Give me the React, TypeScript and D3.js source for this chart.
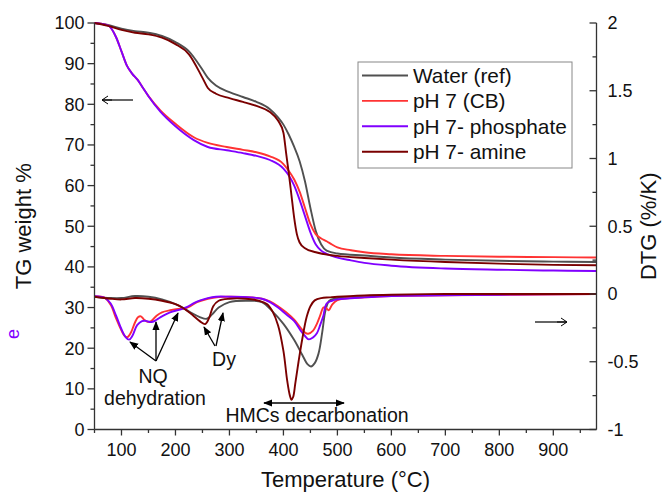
import React from "react";
import * as d3 from "d3";

// ---- TG data (weight %) ----
const tgWaterT = [50, 75, 100, 125, 150, 175, 200, 225, 250, 260, 275, 300, 325, 350, 375, 390, 400, 410, 420, 430, 440, 450, 460, 470, 480, 500, 550, 600, 700, 800, 900, 980];
const tgWaterV = [100, 99.5, 98.6, 98.0, 97.6, 96.8, 95.3, 93.0, 88.5, 86.5, 84.6, 83.0, 81.8, 80.6, 78.8, 76.8, 75.0, 72.5, 69.5, 66.0, 61.0, 54.5, 48.8, 45.5, 44.0, 43.3, 42.8, 42.3, 41.8, 41.5, 41.3, 41.2];

const tgCbT = [50, 75, 90, 100, 110, 120, 130, 140, 150, 172, 200, 234, 260, 295, 325, 350, 375, 400, 410, 420, 430, 440, 450, 460, 470, 480, 490, 500, 525, 550, 600, 700, 800, 900, 980];
const tgCbV = [100, 99.4, 96.5, 93.0, 89.5, 87.5, 86.0, 84.0, 82.0, 78.5, 75.2, 71.9, 70.5, 69.5, 68.8, 68.2, 67.2, 65.3, 63.6, 61.5, 58.5, 54.5, 50.5, 48.0, 47.0, 46.3, 45.5, 44.8, 44.1, 43.6, 43.1, 42.7, 42.5, 42.4, 42.3];

const tgPhosT = [50, 75, 90, 100, 110, 120, 130, 140, 150, 172, 200, 234, 260, 295, 325, 350, 375, 400, 410, 420, 430, 440, 450, 460, 470, 480, 500, 525, 550, 600, 700, 800, 900, 980];
const tgPhosV = [100, 99.4, 96.5, 93.0, 89.5, 87.5, 86.0, 84.0, 82.0, 78.2, 74.6, 71.2, 69.5, 68.7, 68.0, 67.3, 66.3, 64.2, 62.5, 60.0, 56.5, 52.5, 48.5, 45.5, 44.0, 43.2, 42.3, 41.6, 41.0, 40.3, 39.6, 39.3, 39.1, 39.0];

const tgAmineT = [50, 75, 100, 125, 150, 175, 200, 225, 250, 260, 275, 300, 325, 350, 375, 390, 400, 405, 410, 415, 420, 425, 430, 440, 460, 500, 550, 600, 700, 800, 900, 980];
const tgAmineV = [100, 99.3, 98.3, 97.6, 97.2, 96.4, 94.8, 92.3, 86.5, 84.0, 82.6, 81.5, 80.6, 79.6, 78.1, 76.0, 73.0, 68.0, 63.0, 57.5, 52.0, 48.0, 46.0, 44.6, 43.6, 42.7, 42.2, 41.8, 41.2, 40.8, 40.5, 40.4];

// ---- DTG data (%/K) ----
const dtgWaterT = [50, 80, 100, 125, 150, 175, 200, 215, 230, 245, 258, 268, 280, 300, 330, 360, 380, 400, 420, 435, 445, 451, 458, 465, 472, 478, 485, 500, 550, 600, 700, 800, 980];
const dtgWaterV = [-0.02, -0.03, -0.03, -0.015, -0.02, -0.04, -0.075, -0.105, -0.14, -0.17, -0.183, -0.15, -0.1, -0.06, -0.05, -0.06, -0.13, -0.22, -0.34, -0.45, -0.52, -0.535, -0.51, -0.44, -0.28, -0.12, -0.05, -0.03, -0.015, -0.01, -0.005, 0, 0];

const dtgCbT = [50, 70, 80, 90, 100, 106, 111, 118, 125, 131, 136, 142, 148, 155, 165, 175, 190, 205, 215, 225, 240, 260, 280, 300, 340, 360, 375, 390, 405, 420, 432, 440, 446, 455, 462, 468, 474, 478, 484, 490, 500, 550, 600, 700, 980];
const dtgCbV = [-0.017, -0.03, -0.08, -0.18, -0.27, -0.31, -0.318, -0.28, -0.21, -0.17, -0.165, -0.19, -0.205, -0.2, -0.16, -0.135, -0.12, -0.11, -0.108, -0.095, -0.06, -0.035, -0.022, -0.02, -0.025, -0.035, -0.055, -0.09, -0.135, -0.19, -0.25, -0.285, -0.293, -0.27, -0.22, -0.16, -0.1, -0.1, -0.12, -0.08, -0.045, -0.025, -0.015, -0.01, 0];

const dtgPhosT = [50, 70, 80, 90, 100, 108, 114, 120, 129, 138, 145, 152, 158, 165, 175, 190, 210, 222, 235, 246, 260, 275, 300, 340, 360, 375, 390, 405, 420, 432, 440, 447, 455, 462, 468, 474, 480, 490, 500, 550, 600, 700, 800, 980];
const dtgPhosV = [-0.017, -0.03, -0.07, -0.16, -0.26, -0.32, -0.337, -0.31, -0.23, -0.2, -0.198, -0.207, -0.205, -0.19, -0.165, -0.135, -0.113, -0.095, -0.065, -0.047, -0.03, -0.02, -0.02, -0.025, -0.035, -0.06, -0.1, -0.15, -0.2, -0.27, -0.31, -0.335, -0.32, -0.29, -0.23, -0.16, -0.07, -0.05, -0.04, -0.025, -0.015, -0.01, -0.005, 0];

const dtgAmineT = [50, 80, 100, 125, 150, 175, 200, 215, 230, 245, 255, 262, 270, 280, 300, 330, 355, 370, 380, 390, 400, 407, 412, 415, 418, 422, 428, 435, 443, 450, 458, 470, 485, 500, 550, 600, 700, 800, 980];
const dtgAmineV = [-0.02, -0.035, -0.04, -0.03, -0.035, -0.05, -0.075, -0.105, -0.15, -0.2, -0.222, -0.18, -0.09, -0.05, -0.035, -0.035, -0.05, -0.075, -0.13, -0.23, -0.42, -0.64, -0.75, -0.78, -0.76, -0.66, -0.5, -0.33, -0.17, -0.09, -0.047, -0.03, -0.025, -0.02, -0.01, -0.005, 0, 0, 0];

const seriesNames = ["Water (ref)", "pH 7 (CB)", "pH 7- phosphate", "pH 7- amine"];
const seriesColors = ["#505050", "#ff3333", "#8000ff", "#7a0000"];

const xTicks = [100, 200, 300, 400, 500, 600, 700, 800, 900];
const yLeftTicks = [0, 10, 20, 30, 40, 50, 60, 70, 80, 90, 100];
const yRightTicks = [-1, -0.5, 0, 0.5, 1, 1.5, 2];

const FONT = "'Liberation Sans', Arial, sans-serif";

export default function App() {
  const W = 664, H = 492;
  const L = 94.5, R = 596.5, T = 23, B = 429.5;
  const x = d3.scaleLinear().domain([50, 980]).range([L, R]);
  const yL = d3.scaleLinear().domain([0, 100]).range([B, T]);
  const yR = d3.scaleLinear().domain([-1, 2]).range([B, T]);

  const tg = [
    [tgWaterT, tgWaterV],
    [tgCbT, tgCbV],
    [tgPhosT, tgPhosV],
    [tgAmineT, tgAmineV],
  ];
  const dtg = [
    [dtgWaterT, dtgWaterV],
    [dtgCbT, dtgCbV],
    [dtgPhosT, dtgPhosV],
    [dtgAmineT, dtgAmineV],
  ];

  const lineTG = d3.line<number[]>().x((d) => x(d[0])).y((d) => yL(d[1])).curve(d3.curveMonotoneX);
  const lineDTG = d3.line<number[]>().x((d) => x(d[0])).y((d) => yR(d[1])).curve(d3.curveCatmullRom.alpha(0.5));

  const axisColor = "#333";
  const xMinor = d3.range(50, 1000, 50).filter((v) => v % 100 !== 0 && v <= 980);
  const yLMinor = d3.range(5, 100, 10);
  const yRMinor = d3.range(-0.75, 2, 0.5);

  const zip = (t: number[], v: number[]) => t.map((tt, i) => [tt, v[i]]);

  return (
    <svg width={W} height={H} style={{ display: "block", position: "absolute", left: 0, top: 0 }} fontFamily={FONT}>
      <defs>
        <marker id="ah" viewBox="0 0 10 10" refX="9" refY="5" markerWidth="9" markerHeight="9" markerUnits="userSpaceOnUse" orient="auto-start-reverse">
          <path d="M0,1 L10,5 L0,9 Z" fill="#000" />
        </marker>
        <marker id="ah2" viewBox="0 0 10 10" refX="9" refY="5" markerWidth="14" markerHeight="10" markerUnits="userSpaceOnUse" orient="auto-start-reverse">
          <path d="M0,5 L10,5 M4,1 L10,5 L4,9" stroke="#000" fill="none" strokeWidth="1" />
        </marker>
      </defs>
      <rect width={W} height={H} fill="#fff" />

      {/* curves */}
      {tg.map(([t, v], i) => (
        <path key={"tg" + i} d={lineTG(zip(t, v)) || ""} fill="none" stroke={seriesColors[i]} strokeWidth={1.9} />
      ))}
      {dtg.map(([t, v], i) => (
        <path key={"dtg" + i} d={lineDTG(zip(t, v)) || ""} fill="none" stroke={seriesColors[i]} strokeWidth={1.9} />
      ))}

      {/* axes */}
      <g stroke={axisColor} strokeWidth={1.3} fill="none">
        <line x1={L} y1={T} x2={L} y2={B} />
        <line x1={L} y1={B} x2={R} y2={B} />
        <line x1={R} y1={T} x2={R} y2={B} />
        {yLeftTicks.map((v) => <line key={"yl" + v} x1={L - 7} x2={L} y1={yL(v)} y2={yL(v)} />)}
        {yLMinor.map((v) => <line key={"ylm" + v} x1={L - 4} x2={L} y1={yL(v)} y2={yL(v)} />)}
        {xTicks.map((v) => <line key={"xt" + v} x1={x(v)} x2={x(v)} y1={B} y2={B + 6} />)}
        {xMinor.map((v) => <line key={"xm" + v} x1={x(v)} x2={x(v)} y1={B} y2={B + 3.5} />)}
        {yRightTicks.map((v) => <line key={"yr" + v} x1={R - 7} x2={R} y1={yR(v)} y2={yR(v)} />)}
        {yRMinor.map((v) => <line key={"yrm" + v} x1={R - 4} x2={R} y1={yR(v)} y2={yR(v)} />)}
      </g>
      <g fontSize={18} fill="#111">
        {yLeftTicks.map((v) => (
          <text key={"ylt" + v} x={L - 10} y={yL(v)} dy="0.36em" textAnchor="end">{v}</text>
        ))}
        {xTicks.map((v) => (
          <text key={"xtt" + v} x={x(v)} y={B + 26} textAnchor="middle">{v}</text>
        ))}
        {yRightTicks.map((v) => (
          <text key={"yrt" + v} x={R + 11} y={yR(v)} dy="0.36em" textAnchor="start">{v}</text>
        ))}
      </g>
      <g fontSize={22} fill="#111">
        <text x={(L + R) / 2} y={487} textAnchor="middle">Temperature (°C)</text>
        <text transform={`translate(31,${(T + B) / 2}) rotate(-90)`} textAnchor="middle">TG weight %</text>
        <text transform={`translate(648,${(T + B) / 2}) rotate(-90)`} textAnchor="middle" dy="0.35em">DTG (%/K)</text>
      </g>
      <text transform="translate(19,334) rotate(-90)" fontSize={18} fill="#8000ff" textAnchor="middle">e</text>

      {/* legend */}
      <rect x={358} y={62} width={214} height={106} fill="#fff" stroke="#888" strokeWidth={1} />
      {seriesNames.map((n, i) => (
        <g key={"lg" + i}>
          <line x1={362} x2={408} y1={75.5 + i * 25.4} y2={75.5 + i * 25.4} stroke={seriesColors[i]} strokeWidth={1.9} />
          <text x={413} y={75.5 + i * 25.4} dy="0.35em" fontSize={20.8} fill="#111">{n}</text>
        </g>
      ))}

      {/* side arrows */}
      <line x1={133} y1={100} x2={103} y2={100} stroke="#000" strokeWidth={1.2} markerEnd="url(#ah2)" />
      <line x1={535} y1={322} x2={566} y2={322} stroke="#000" strokeWidth={1.2} markerEnd="url(#ah2)" />

      {/* annotations */}
      <g stroke="#000" strokeWidth={1.3} fill="none">
        <line x1={156} y1={361} x2={130} y2={342} markerEnd="url(#ah)" />
        <line x1={156} y1={361} x2={156} y2={322} markerEnd="url(#ah)" />
        <line x1={156} y1={361} x2={178} y2={313} markerEnd="url(#ah)" />
        <line x1={215} y1={346} x2={204} y2={327} markerEnd="url(#ah)" />
        <line x1={216} y1={346} x2={223} y2={313} markerEnd="url(#ah)" />
        <line x1={264} y1={403} x2={344} y2={403} markerStart="url(#ah)" markerEnd="url(#ah)" />
      </g>
      <g fontSize={19.5} fill="#111" textAnchor="middle">
        <text x={153} y={383}>NQ</text>
        <text x={155} y={405}>dehydration</text>
        <text x={224} y={366}>Dy</text>
        <text x={317} y={422}>HMCs decarbonation</text>
      </g>
    </svg>
  );
}
